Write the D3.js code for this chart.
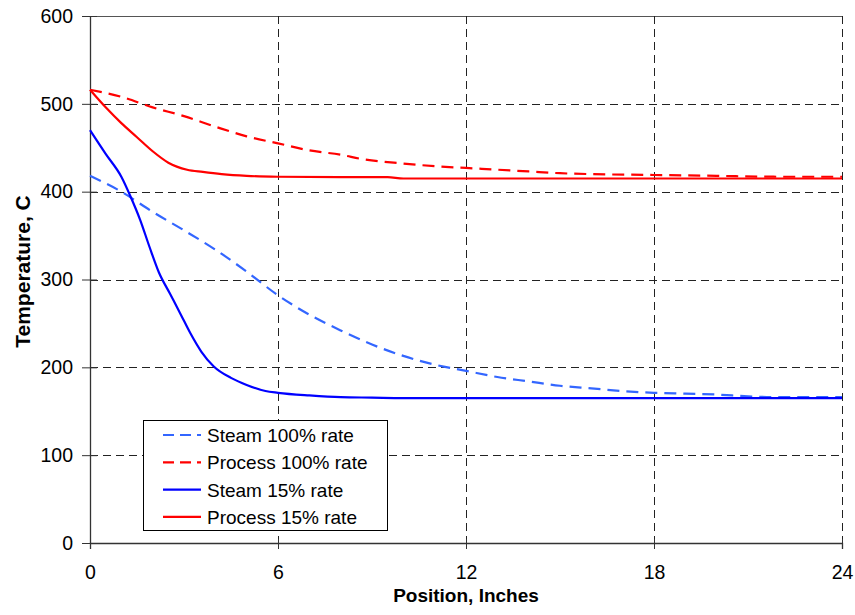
<!DOCTYPE html>
<html>
<head>
<meta charset="utf-8">
<title>Temperature vs position</title>
<style>
    body { margin: 0; background: #fff; }
    text { font-family: "Liberation Sans", Arial, sans-serif; }
</style>
</head>
<body>
<div id="chart"></div>
<script src="https://d3js.org/d3.v7.min.js"></script>
<script>
// values (position in inches, temperature in C)
var steam100X = [0, 1, 2, 3, 4, 5, 6, 7, 8, 9, 10, 11, 12, 13, 14, 15, 16, 17, 18, 19, 20, 21, 22, 23, 24];
var steam100Y = [418, 400, 377, 356, 334, 309, 282, 260, 242, 226, 213, 203, 196, 189, 184, 179, 176, 173, 171, 170, 169, 167, 166, 166, 166];

var process100X = [0, 1, 2, 3, 4, 5, 6, 7, 8, 8.7, 10, 11, 12, 13, 14, 15, 16, 18, 20, 22, 24];
var process100Y = [516, 508, 496, 486, 474, 463, 455, 447, 442, 437, 432, 429, 427, 425, 423, 421, 420, 419, 418, 417, 417];

var steam15X = [0, 0.5, 1, 1.3, 1.6, 1.9, 2.2, 2.55, 2.9, 3.2, 3.55, 3.95, 4.5, 5, 5.6, 6, 7, 8, 9, 10, 12, 16, 20, 24];
var steam15Y = [470, 443, 417, 394, 368, 337, 308, 284, 260, 239, 218, 201, 188, 180, 173, 171, 168, 166, 165.5, 165, 165, 165, 165, 165];

var process15X = [0, 0.5, 1, 1.5, 2, 2.5, 3.1, 3.6, 4.2, 5, 6, 8, 9.5, 10, 12, 16, 20, 24];
var process15Y = [516, 496, 478, 462, 446, 433, 425, 422.5, 420, 418, 417, 416.5, 416.5, 415, 415, 415, 415, 415];

var xTicks = [0, 6, 12, 18, 24];
var yTicks = [0, 100, 200, 300, 400, 500, 600];

var seriesNames = ["Steam 100% rate", "Process 100% rate", "Steam 15% rate", "Process 15% rate"];
var seriesColors = ["#3366ff", "#ff0000", "#0000ff", "#ff0000"];
var seriesDash = ["12,7", "12,7", null, null];

var series = [
    { name: seriesNames[0], xs: steam100X, ys: steam100Y },
    { name: seriesNames[1], xs: process100X, ys: process100Y },
    { name: seriesNames[2], xs: steam15X, ys: steam15Y },
    { name: seriesNames[3], xs: process15X, ys: process15Y }
];

var W = 855, H = 615;
var margin = { top: 16, right: 13, bottom: 72, left: 90 },
    width = W - margin.left - margin.right,
    height = H - margin.top - margin.bottom;

var svg = d3.select("#chart").append("svg")
    .attr("width", W)
    .attr("height", H);

var g = svg.append("g")
    .attr("transform", "translate(" + margin.left + "," + margin.top + ")");

var x = d3.scaleLinear().domain([0, 24]).range([0, width]);
var y = d3.scaleLinear().domain([0, 600]).range([height, 0]);

// horizontal grid lines
g.selectAll(".hgrid")
    .data(yTicks.filter(function (d) { return d > 0 && d < 600; }))
    .enter().append("line")
    .attr("x1", 0).attr("x2", width)
    .attr("y1", function (d) { return Math.round(y(d)) + 0.5; })
    .attr("y2", function (d) { return Math.round(y(d)) + 0.5; })
    .attr("stroke", "#222")
    .attr("stroke-width", 1)
    .attr("stroke-dasharray", "8,5");

// top line
g.append("line")
    .attr("x1", 0).attr("x2", width)
    .attr("y1", Math.round(y(600)) + 0.5).attr("y2", Math.round(y(600)) + 0.5)
    .attr("stroke", "#555").attr("stroke-width", 1);

// vertical grid lines
g.selectAll(".vgrid")
    .data(xTicks.filter(function (d) { return d > 0; }))
    .enter().append("line")
    .attr("x1", function (d) { return Math.round(x(d)) + 0.5; })
    .attr("x2", function (d) { return Math.round(x(d)) + 0.5; })
    .attr("y1", 0).attr("y2", height)
    .attr("stroke", "#222")
    .attr("stroke-width", 1)
    .attr("stroke-dasharray", "8,5");

// axes
var xAxis = g.append("g")
    .attr("transform", "translate(0," + height + ")")
    .call(d3.axisBottom(x).tickValues(xTicks).tickSize(6).tickPadding(16));
var yAxis = g.append("g")
    .call(d3.axisLeft(y).tickValues(yTicks).tickSize(8).tickPadding(9));

[xAxis, yAxis].forEach(function (a) {
    a.select(".domain").attr("stroke", "#333").attr("stroke-width", 1.3);
    a.selectAll(".tick line").attr("stroke", "#333");
    a.selectAll(".tick text")
        .attr("fill", "#000")
        .style("font-size", "19.5px")
        .style("font-family", "'Liberation Sans', Arial, sans-serif");
});
yAxis.select(".domain").attr("d", "M0.5," + height + "V0");
// ticks cross the axis lines
yAxis.selectAll(".tick line").attr("x1", 7);
xAxis.selectAll(".tick line").attr("y1", -4);

// axis titles
svg.append("text")
    .attr("x", margin.left + width / 2)
    .attr("y", 602)
    .attr("text-anchor", "middle")
    .style("font-size", "19px")
    .style("font-weight", "bold")
    .text("Position, Inches");

svg.append("text")
    .attr("transform", "translate(30," + (margin.top + height / 2 - 8) + ")rotate(-90)")
    .attr("text-anchor", "middle")
    .style("font-size", "21px")
    .style("font-weight", "bold")
    .text("Temperature, C");

// series lines
var line = d3.line()
    .x(function (d) { return x(d[0]); })
    .y(function (d) { return y(d[1]); })
    .curve(d3.curveMonotoneX);

series.forEach(function (s, i) {
    var pts = s.xs.map(function (v, j) { return [v, s.ys[j]]; });
    g.append("path")
        .datum(pts)
        .attr("fill", "none")
        .attr("stroke", seriesColors[i])
        .attr("stroke-width", 2.2)
        .attr("stroke-dasharray", seriesDash[i])
        .attr("d", line);
});

// legend
var legend = svg.append("g").attr("transform", "translate(143,420)");
legend.append("rect")
    .attr("x", 0.5).attr("y", 0.5)
    .attr("width", 244).attr("height", 110)
    .attr("fill", "#fff")
    .attr("stroke", "#000")
    .attr("stroke-width", 1);

seriesNames.forEach(function (name, i) {
    var yy = 15 + i * 27.3;
    legend.append("line")
        .attr("x1", 20).attr("x2", 58)
        .attr("y1", yy).attr("y2", yy)
        .attr("stroke", seriesColors[i])
        .attr("stroke-width", 2.2)
        .attr("stroke-dasharray", seriesDash[i] ? "11,6" : null);
    legend.append("text")
        .attr("x", 64)
        .attr("y", yy + 7)
        .style("font-size", "19px")
        .text(name);
});
</script>
</body>
</html>
